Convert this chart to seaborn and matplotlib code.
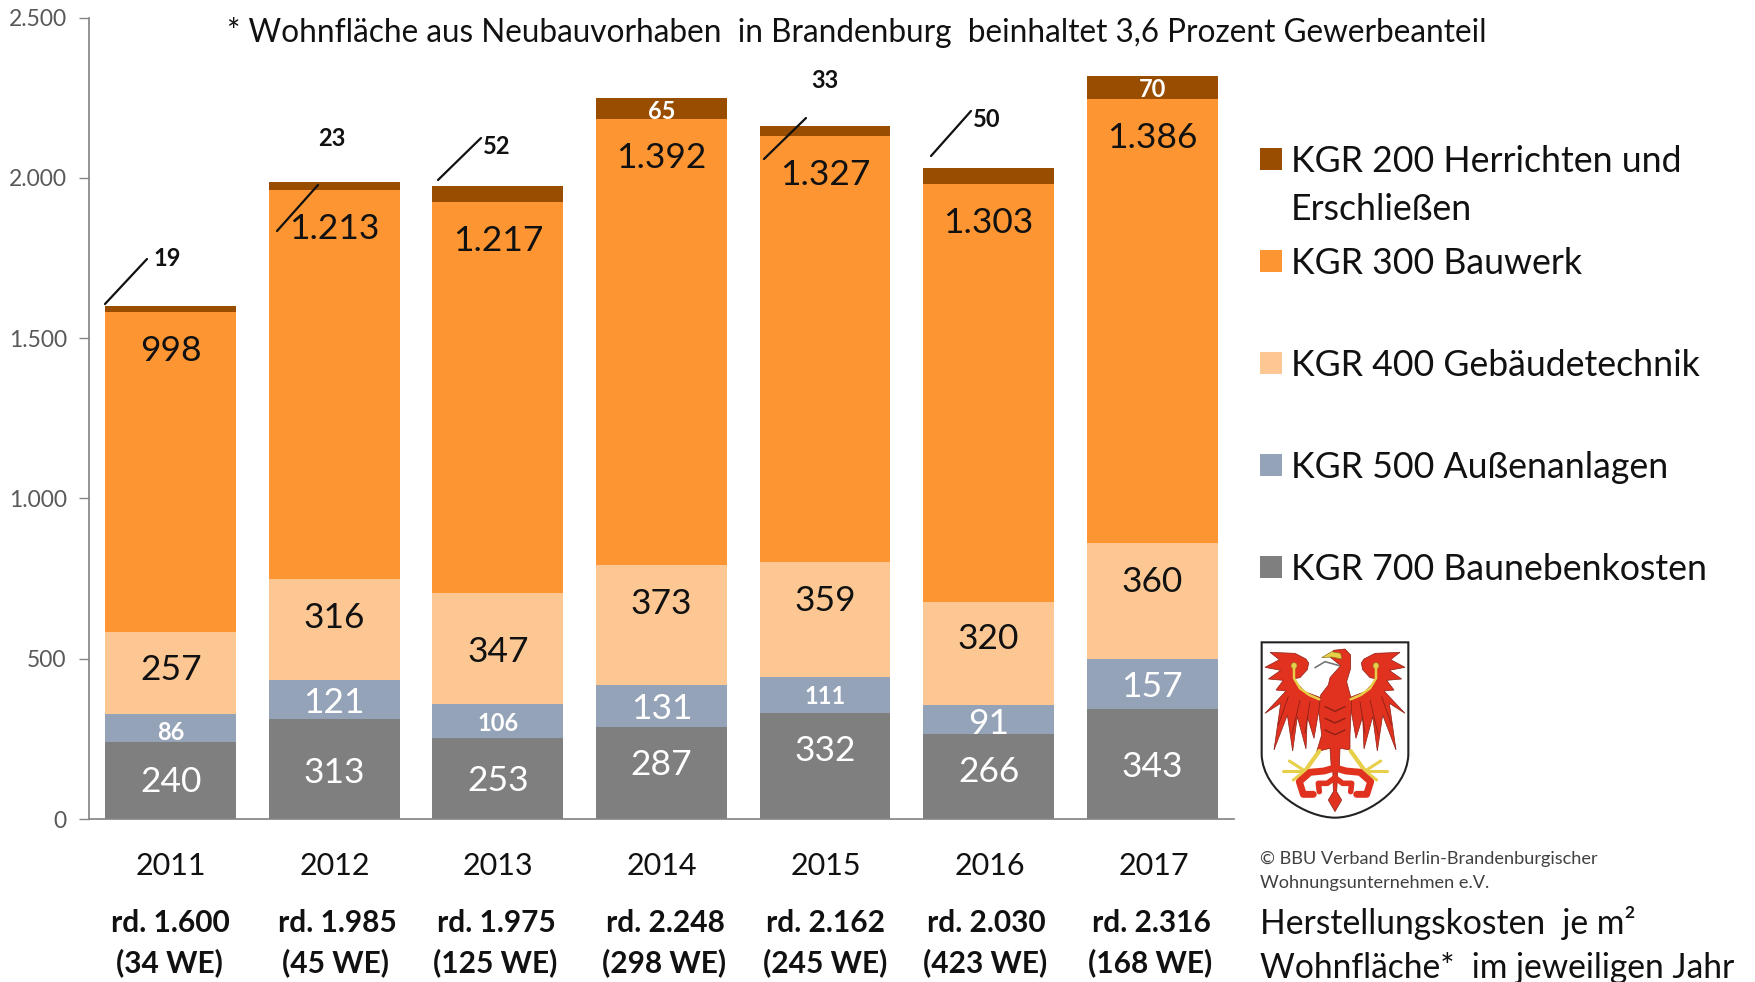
import matplotlib.pyplot as plt
import matplotlib.patches as mpatches
from matplotlib.lines import Line2D
from matplotlib.path import Path
import seaborn as sns
import numpy as np

years = ["2011", "2012", "2013", "2014", "2015", "2016", "2017"]
kgr_700 = [240, 313, 253, 287, 332, 266, 343]
kgr_500 = [86, 121, 106, 131, 111, 91, 157]
kgr_400 = [257, 316, 347, 373, 359, 320, 360]
kgr_300 = [998, 1213, 1217, 1392, 1327, 1303, 1386]
kgr_200 = [19, 23, 52, 65, 33, 50, 70]
series_names = ["KGR 700 Baunebenkosten", "KGR 500 Außenanlagen", "KGR 400 Gebäudetechnik",
                "KGR 300 Bauwerk", "KGR 200 Herrichten und\nErschließen"]
totals = ["rd. 1.600", "rd. 1.985", "rd. 1.975", "rd. 2.248", "rd. 2.162", "rd. 2.030", "rd. 2.316"]
units = ["(34 WE)", "(45 WE)", "(125 WE)", "(298 WE)", "(245 WE)", "(423 WE)", "(168 WE)"]
y_ticks = [0, 500, 1000, 1500, 2000, 2500]
y_tick_labels = ["0", "500", "1.000", "1.500", "2.000", "2.500"]

colors = ["#7f7f7f", "#95a3b8", "#fdc793", "#fd9632", "#984d00"]
W, H = 1756, 982

# how far each value label sits below the top of its segment, in pixels
label_drop = [[40, 54, 43, 38, 38, 38, 58],
              [18, 23, 20, 24, 20, 19, 28],
              [38, 39, 59, 39, 39, 37, 39],
              [39, 39, 39, 39, 39, 39, 39],
              [0, 0, 0, 13, 0, 0, 13]]

sns.set_theme(style="white")
plt.rcParams['font.family'] = ['Lato', 'DejaVu Sans']

fig = plt.figure(figsize=(W / 100, H / 100), dpi=100, facecolor="white")


def px(x, y):
    return x / W, 1 - y / H


def fig_text(x, y, s, **kw):
    kw.setdefault("color", "#111111")
    kw.setdefault("va", "center")
    fig.text(*px(x, y), s, **kw)


# chart area
ax = fig.add_axes([89 / W, 1 - 819 / H, (1234 - 89) / W, (819 - 17.5) / H])
units_per_px = 2500 / (819 - 17.5)
stack = [kgr_700, kgr_500, kgr_400, kgr_300, kgr_200]
bottom = np.zeros(len(years))
for s, (values, color) in enumerate(zip(stack, colors)):
    sns.barplot(x=years, y=values, bottom=bottom, color=color, saturation=1, width=0.8,
                linewidth=0, ax=ax)
    for i, v in enumerate(values):
        if s == 4 and v < 65:
            continue  # the thin ones get a leader line further down
        label = f"{v // 1000}.{v % 1000:03d}" if v >= 1000 else str(v)
        y = bottom[i] + v - label_drop[s][i] * units_per_px
        small = v in (86, 106, 111) or s == 4
        ax.text(i, y, label, ha="center", va="center",
                fontsize=17 if small else 25.5,
                fontweight="bold" if small else "normal",
                color="#111111" if s in (2, 3) else "white")
    bottom += np.array(values)

ax.set_xlim(-0.5, 6.5)
ax.set_ylim(0, 2500)
ax.set_yticks(y_ticks, y_tick_labels, fontsize=16.5, color="#595959")
ax.set_xticks([])
ax.set_xlabel("")
ax.tick_params(axis="y", length=7, width=1, color="#868686", pad=9, left=True)
sns.despine(ax=ax)
ax.spines["left"].set_color("#868686")
ax.spines["bottom"].set_color("#868686")
ax.set_facecolor("white")

# category texts below the axis
centers_px = [170.5, 334.5, 498, 662, 825.5, 990, 1153.5]
total_px = [170, 337, 496, 665, 826, 986, 1151]
for i, c in enumerate(centers_px):
    fig_text(c, 866, years[i], ha="center", fontsize=22)
    fig_text(total_px[i], 923, totals[i], ha="center", fontsize=21.5, fontweight="bold")
    fig_text(total_px[i] - 1, 963, units[i], ha="center", fontsize=21.5, fontweight="bold")

# leader lines with the small outside labels
leaders = [(0, (105, 304), (147, 259), (167, 258)),
           (1, (277, 231), (318, 185), (332, 138)),
           (2, (438, 180), (481, 138), (497, 146)),
           (4, (764, 159), (806, 118), (825, 80)),
           (5, (931, 156), (971, 111), (987, 120))]
for i, start, end, lab in leaders:
    fig.add_artist(Line2D([px(*start)[0], px(*end)[0]], [px(*start)[1], px(*end)[1]],
                          color="#111111", lw=1.6))
    fig_text(lab[0], lab[1], str(kgr_200[i]), ha="center", fontsize=17, fontweight="bold")

fig_text(227, 32, "* Wohnfläche aus Neubauvorhaben  in Brandenburg  beinhaltet 3,6 Prozent Gewerbeanteil",
         fontsize=22.7)

# legend
legend_y = [159, 261, 363, 465, 567]
for y, name, color in zip(legend_y, series_names[::-1], colors[::-1]):
    fig.add_artist(mpatches.Rectangle((1260 / W, 1 - (y + 11) / H), 22 / W, 22 / H,
                                      transform=fig.transFigure, color=color, lw=0))
    first = name.split("\n")
    fig_text(1291, y + 2, first[0], fontsize=25.7)
    if len(first) > 1:
        fig_text(1291, y + 50, first[1], fontsize=25.7)

fig_text(1260, 859, "© BBU Verband Berlin-Brandenburgischer", fontsize=13.1, color="#404040")
fig_text(1260, 883, "Wohnungsunternehmen e.V.", fontsize=13.1, color="#404040")
fig_text(1260, 923, "Herstellungskosten  je m²", fontsize=24.2)
fig_text(1260, 968, "Wohnfläche*  im jeweiligen Jahr", fontsize=24.2)

# coat of arms, drawn in the pixels of a 3x crop
arms = fig.add_axes([1250 / W, 1 - 825 / H, 170 / W, 190 / H])
arms.set_xlim(0, 510)
arms.set_ylim(570, 0)
arms.axis("off")
RED = "#e0321f"
DARK = "#8e1f14"
YEL = "#e8cf4a"

shield = Path([(35, 22), (475, 22), (475, 360), (470, 470), (340, 548), (255, 548),
               (170, 548), (40, 470), (35, 360), (35, 22)],
              [Path.MOVETO, Path.LINETO, Path.LINETO, Path.CURVE4, Path.CURVE4, Path.CURVE4,
               Path.CURVE4, Path.CURVE4, Path.CURVE4, Path.CLOSEPOLY])
arms.add_patch(mpatches.PathPatch(shield, fc="white", ec="#222222", lw=1.5))

wing = [(168, 72), (135, 55), (60, 52), (88, 74), (45, 97), (92, 106), (55, 132), (100, 136),
        (78, 165), (108, 168), (45, 235), (92, 205), (72, 345), (112, 240), (128, 348),
        (142, 245), (168, 342), (172, 245), (192, 310), (205, 235), (212, 188), (165, 170),
        (128, 132), (150, 128), (172, 104), (176, 84)]
arms.add_patch(mpatches.Polygon(wing, fc=RED, ec=DARK, lw=0.5))
arms.add_patch(mpatches.Polygon([(510 - x, y) for x, y in wing], fc=RED, ec=DARK, lw=0.5))

body = [(212, 180), (235, 150), (240, 128), (272, 92), (240, 66), (250, 46), (285, 42), (302, 60),
        (302, 100), (290, 140), (300, 178), (305, 195), (300, 300), (300, 345), (270, 340),
        (268, 400), (244, 400), (240, 340), (200, 350), (215, 300), (206, 230)]
arms.add_patch(mpatches.Polygon(body, fc=RED, ec=DARK, lw=0.5))
arms.add_patch(mpatches.Polygon([(215, 68), (245, 50), (272, 55), (275, 72), (245, 66)],
                                fc=YEL, ec="#8a7a20", lw=0.5))
arms.plot([195, 225, 268], [98, 80, 92], color="#777777", lw=1.2)

for side in (1, -1):
    def sx(x):
        return x if side == 1 else 510 - x
    # yellow wing bar and trefoil
    arms.plot([sx(x) for x in (132, 132, 150, 178, 208)], [95, 130, 160, 180, 193], color=YEL, lw=1.8)
    arms.add_patch(mpatches.Circle((sx(132), 92), 9, fc=YEL, ec="#8a7a20", lw=0.4))
    # feather shading
    for a, b in [((115, 185), (85, 270)), ((150, 195), (125, 300)), ((180, 200), (165, 295))]:
        arms.plot([sx(a[0]), sx(b[0])], [a[1], b[1]], color=DARK, lw=0.6)
    # legs and claws
    arms.plot([sx(x) for x in (208, 165)], [348, 408], color=YEL, lw=3)
    for cx, cy in [(118, 378), (98, 408), (130, 435), (190, 405)]:
        arms.plot([sx(165), sx(cx)], [408, cy], color=YEL, lw=2.2)
    # tail curls
    arms.plot([sx(x) for x in (250, 222, 180, 148, 160, 190)], [400, 408, 412, 440, 478, 478], color=RED, lw=5)
    arms.plot([sx(x) for x in (252, 232, 205, 208)], [430, 445, 445, 470], color=RED, lw=4)

arms.add_patch(mpatches.Polygon([(248, 395), (264, 395), (260, 470), (275, 495), (255, 530),
                                 (235, 495), (250, 470)], fc=RED, ec=DARK, lw=0.5))
for y in (215, 250, 285):
    arms.plot([225, 255, 285], [y, y + 14, y], color=DARK, lw=1)

fig.savefig("out.png", dpi=100, facecolor="white")
